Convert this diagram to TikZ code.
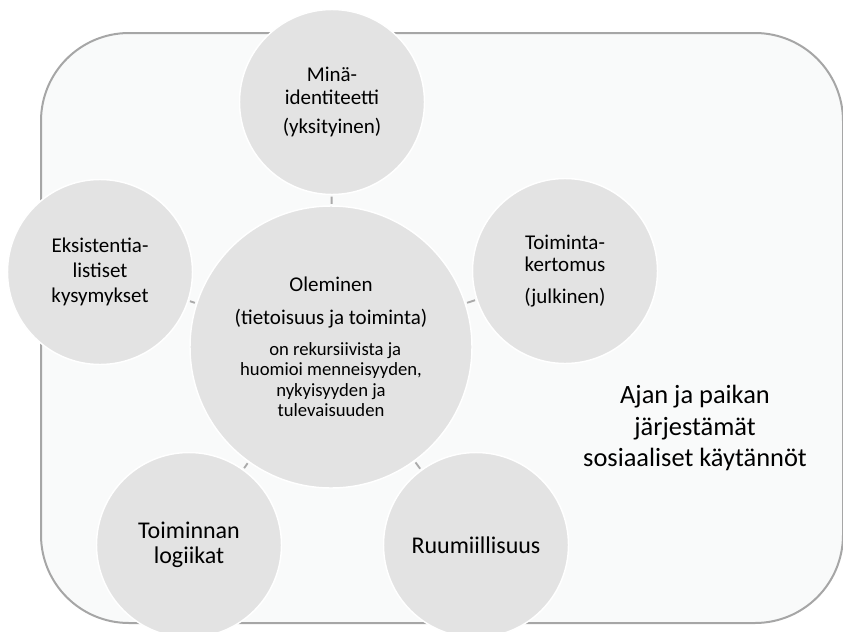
\documentclass[tikz,border=0pt]{standalone}
\usepackage{fontspec}
\setmainfont{Carlito}
\usepackage{tikz}
\usetikzlibrary{positioning}
\definecolor{frame}{RGB}{166, 166, 166}
\definecolor{paper}{RGB}{249, 250, 250}
\definecolor{disc}{RGB}{227, 227, 227}
\definecolor{spoke}{RGB}{170, 170, 170}

\begin{document}
\begin{tikzpicture}[x=0.75pt, y=-0.75pt,
    bubble/.style={draw=white, line width=1.1pt, fill=disc, circle, inner sep=0pt, align=center, minimum size=138.75pt},
    hub/.style={bubble, minimum size=211.5pt},
    link/.style={draw=spoke, line width=1.4pt, shorten <=1pt, shorten >=1pt}]
                \useasboundingbox (0,0) rectangle (843,632);
                \node[draw=frame, line width=1.5pt, fill=paper, rounded corners=66pt, minimum width=601.5pt, minimum height=442.5pt, anchor=north west] (frame) at (40,32) {};
                \node[font=\fontsize{19.8pt}{23.3pt}\selectfont, align=center] (practices) at (695,428) {Ajan ja paikan\\järjestämät\\sosiaaliset käytännöt};

                \node[hub, font=\fontsize{14pt}{15.4pt}\selectfont] (being) at (331,347) {{\fontsize{15.75pt}{15pt}\selectfont Oleminen}\\[9pt]
                    {\fontsize{15.75pt}{15pt}\selectfont (tietoisuus ja toiminta)}\\[8pt]
                    \ \ on rekursiivista ja\\
                    huomioi menneisyyden,\\
                    nykyisyyden ja\\
                    tulevaisuuden};
                \node[bubble, font=\fontsize{15.75pt}{17pt}\selectfont] (self) at (332,102) {Minä-\\identiteetti\\[4.5pt](yksityinen)};
                \node[bubble, font=\fontsize{15.75pt}{17pt}\selectfont] (story) at (565,271) {Toiminta-\\kertomus\\[7pt](julkinen)};
                \node[bubble, font=\fontsize{15.75pt}{19pt}\selectfont] (exist) at (100,272) {Eksistentia-\\listiset\\kysymykset};
                \node[bubble, font=\fontsize{18pt}{19pt}\selectfont] (logic) at (189,545) {Toiminnan\\logiikat};
                \node[bubble, font=\fontsize{18pt}{19pt}\selectfont] (body) at (476,545) {Ruumiillisuus};

                \draw[link] (being) -- (self);
                \draw[link] (being) -- (story);
                \draw[link] (being) -- (exist);
                \draw[link] (being) -- (logic);
                \draw[link] (being) -- (body);
            \end{tikzpicture}
\end{document}
